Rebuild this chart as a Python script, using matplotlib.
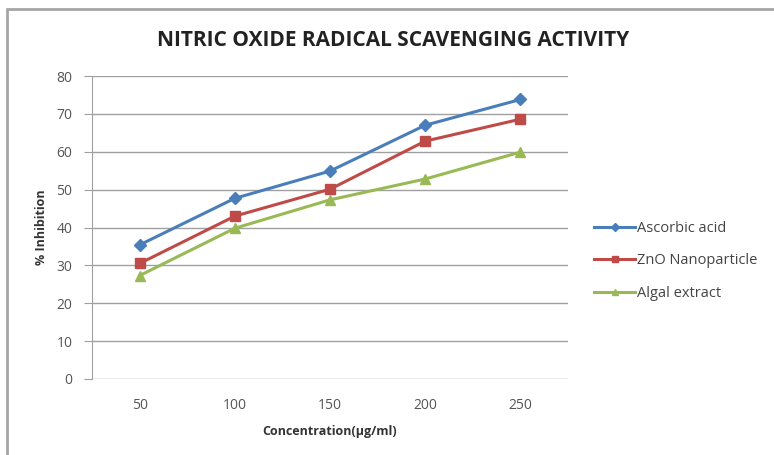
import matplotlib.pyplot as plt
from matplotlib.patches import Rectangle

# data
concentration = ['50', '100', '150', '200', '250']
ascorbic_acid = [35.4, 47.7, 54.9, 67.0, 73.8]
zno_nano = [30.5, 43.0, 50.1, 62.8, 68.6]
algal_extract = [27.3, 39.8, 47.3, 52.8, 59.9]
series_names = ['Ascorbic acid', 'ZnO Nanoparticle', 'Algal extract']

plt.rcParams['font.family'] = ['Open Sans', 'DejaVu Sans']

fig = plt.figure(figsize=(7.74, 4.55), dpi=100)
ax = fig.add_axes([92 / 774, 1 - 379 / 455, 476 / 774, 303 / 455])

# outer chart frame (cropped on the right and bottom)
fig.patches.append(Rectangle((7 / 774, -0.1), 1.2, 1 - 9 / 455 + 0.1,
                             transform=fig.transFigure, fill=False,
                             edgecolor='#a6a6a6', linewidth=2))

x = range(len(concentration))
ax.plot(x, ascorbic_acid, color='#4a7ebb', marker='D', markersize=6, linewidth=2.2, label=series_names[0])
ax.plot(x, zno_nano, color='#be4b48', marker='s', markersize=7, linewidth=2.2, label=series_names[1])
ax.plot(x, algal_extract, color='#98b954', marker='^', markersize=7, linewidth=2.2, label=series_names[2])

ax.set_xlim(-0.5, 4.5)
ax.set_ylim(0, 80)
ax.set_yticks(range(0, 81, 10))
ax.set_xticks(list(x))
ax.set_xticklabels(concentration)
ax.grid(axis='y', color='#a0a0a0', linewidth=1)
ax.set_axisbelow(True)

for s in ['top', 'right', 'bottom']:
    ax.spines[s].set_visible(False)
ax.spines['left'].set_color('#a0a0a0')
ax.tick_params(axis='y', length=6, color='#a0a0a0', labelsize=10, labelcolor='#555555', pad=8)
ax.tick_params(axis='x', length=0, labelsize=10, labelcolor='#555555', pad=14)

ax.set_xlabel('Concentration(μg/ml)', fontsize=9, fontweight='bold', color='#333333', labelpad=8)
ax.set_ylabel('% Inhibition', fontsize=9, fontweight='bold', color='#333333', labelpad=6)

fig.text(393 / 774, 1 - 40 / 455, 'NITRIC OXIDE RADICAL SCAVENGING ACTIVITY',
         ha='center', va='center', fontsize=15, fontweight='bold', color='#222222')

ax.legend(loc='center left', bbox_to_anchor=(1.028, 0.39), frameon=False,
          fontsize=10.5, labelcolor='#444444', handlelength=2.8, handletextpad=0.15,
          labelspacing=1.2, markerscale=0.7)

fig.savefig('out.png', dpi=100)
